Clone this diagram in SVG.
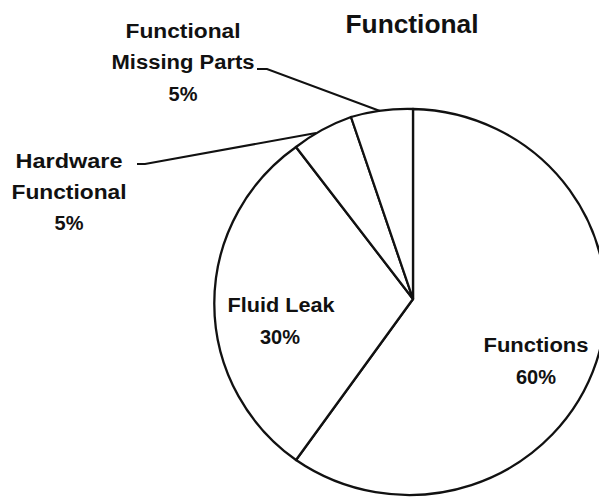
<svg xmlns="http://www.w3.org/2000/svg" width="599" height="497" viewBox="0 0 599 497">
<style>
.sl{fill:#fff;stroke:#111;stroke-width:2.3;stroke-linejoin:round}
.t{font-family:"Liberation Sans",Arial,sans-serif;font-weight:bold;fill:#111;text-anchor:middle;font-size:20px}
.ld{fill:none;stroke:#111;stroke-width:2}
</style>
<rect width="599" height="497" fill="#fff"/>
<text class="t" x="412" y="33" style="font-size:25px" textLength="133" lengthAdjust="spacingAndGlyphs">Functional</text>
<g id="functions">
<path class="sl" d="M413,299 L413,109 A197,193 0 1 1 296,460 Z"/>
<text class="t" x="536" y="352" textLength="105" lengthAdjust="spacingAndGlyphs">Functions</text>
<text class="t" x="536" y="384">60%</text>
</g>
<g id="fluid-leak">
<path class="sl" d="M413,299 L296,460 A197,193 0 0 1 296,147 Z"/>
<text class="t" x="281" y="312" textLength="107" lengthAdjust="spacingAndGlyphs">Fluid Leak</text>
<text class="t" x="280" y="344">30%</text>
</g>
<g id="hardware-functional">
<path class="sl" d="M413,299 L296,147 A197,193 0 0 1 351,117 Z"/>
<text class="t" x="69" y="168" textLength="107" lengthAdjust="spacingAndGlyphs">Hardware</text>
<text class="t" x="69" y="199" textLength="115" lengthAdjust="spacingAndGlyphs">Functional</text>
<text class="t" x="69" y="230">5%</text>
</g>
<g id="functional-missing-parts">
<path class="sl" d="M413,299 L351,117 A197,193 0 0 1 413,109 Z"/>
<text class="t" x="183" y="38" textLength="115" lengthAdjust="spacingAndGlyphs">Functional</text>
<text class="t" x="183" y="69" textLength="143" lengthAdjust="spacingAndGlyphs">Missing Parts</text>
<text class="t" x="183" y="101">5%</text>
</g>
<g id="connectors">
<polyline class="ld" points="257,69 267,69 380,111"/>
<polyline class="ld" points="137,164 145,164 316,133"/>
</g>
</svg>
